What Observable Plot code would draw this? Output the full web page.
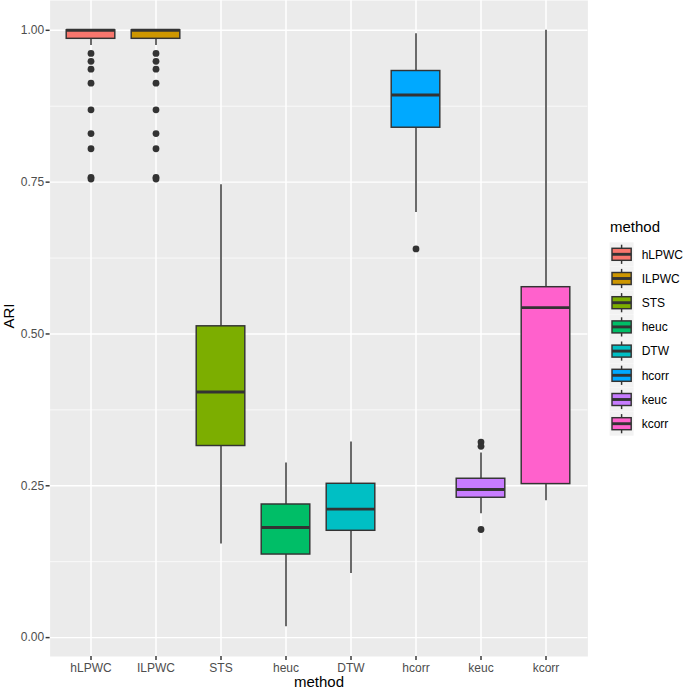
<!DOCTYPE html>
<html>
<head>
<meta charset="utf-8">
<script src="https://cdn.jsdelivr.net/npm/d3@7"></script>
<script src="https://cdn.jsdelivr.net/npm/@observablehq/plot@0.6"></script>
<style>
  body { margin: 0; background: #ffffff; }
  #wrap { position: relative; width: 685px; height: 690px; }
  #legend { position: absolute; left: 0; top: 0; pointer-events: none; }
</style>
</head>
<body>
<div id="wrap"></div>
<script>
// ---- data ----
const methods = ["hLPWC", "ILPWC", "STS", "heuc", "DTW", "hcorr", "keuc", "kcorr"];
const fillColors = ["#F8766D", "#CD9600", "#7CAE00", "#00BE67", "#00BFC4", "#00A9FF", "#C77CFF", "#FF61CC"];
const whiskerLow  = [0.975, 0.975, 0.154, 0.018, 0.1055, 0.700, 0.204, 0.2253];
const q1          = [0.986, 0.986, 0.3155, 0.1368, 0.1759, 0.8396, 0.2303, 0.2528];
const median      = [1.000, 1.000, 0.4045, 0.1813, 0.2116, 0.8934, 0.2440, 0.5434];
const q3          = [1.000, 1.000, 0.5126, 0.2192, 0.2533, 0.9330, 0.2616, 0.5770];
const whiskerHigh = [1.000, 1.000, 0.7457, 0.2874, 0.3220, 0.9945, 0.3040, 1.000];
const outlierMethod = [
  "hLPWC","hLPWC","hLPWC","hLPWC","hLPWC","hLPWC","hLPWC","hLPWC","hLPWC",
  "ILPWC","ILPWC","ILPWC","ILPWC","ILPWC","ILPWC","ILPWC","ILPWC","ILPWC",
  "hcorr",
  "keuc","keuc","keuc"
];
const outlierValue = [
  0.962, 0.949, 0.936, 0.913, 0.869, 0.830, 0.805, 0.758, 0.755,
  0.962, 0.949, 0.936, 0.913, 0.869, 0.830, 0.805, 0.758, 0.755,
  0.640,
  0.322, 0.315, 0.178
];
const yTicks = [0, 0.25, 0.5, 0.75, 1];
const yMinor = [0.125, 0.375, 0.625, 0.875];
const xTitle = "method";
const yTitle = "ARI";
const legendTitle = "method";

// ---- tables built from the arrays ----
const boxes = methods.map((m, i) => ({
  method: m, lo: whiskerLow[i], q1: q1[i], med: median[i], q3: q3[i], hi: whiskerHigh[i]
}));
const outliers = outlierMethod.map((m, i) => ({ method: m, value: outlierValue[i] }));

const dataMin = Math.min(d3.min(whiskerLow), d3.min(outlierValue));
const dataMax = Math.max(d3.max(whiskerHigh), d3.max(outlierValue));
const pad = 0.05 * (dataMax - dataMin);

const FONT = "Liberation Sans, Arial, Helvetica, sans-serif";
const inset = 8.2;

const chart = Plot.plot({
  width: 685,
  height: 690,
  marginLeft: 49.6,
  marginRight: 97.6,
  marginTop: 0,
  marginBottom: 34,
  style: { fontFamily: FONT, fontSize: "12px", background: "white", overflow: "visible" },
  x: { type: "band", domain: methods, paddingInner: 0, paddingOuter: 0.1, label: null },
  y: { domain: [dataMin - pad, dataMax + pad], label: null },
  color: { domain: methods, range: fillColors },
  marks: [
    Plot.frame({ fill: "#EBEBEB" }),
    Plot.ruleY(yMinor, { stroke: "white", strokeWidth: 0.73 }),
    Plot.ruleY(yTicks, { stroke: "white", strokeWidth: 1.45 }),
    Plot.ruleX(methods, { x: d => d, stroke: "white", strokeWidth: 1.45 }),
    Plot.ruleX(boxes, { x: "method", y1: "lo", y2: "q1", stroke: "#333333", strokeWidth: 1.45 }),
    Plot.ruleX(boxes, { x: "method", y1: "q3", y2: "hi", stroke: "#333333", strokeWidth: 1.45 }),
    Plot.barY(boxes, { x: "method", y1: "q1", y2: "q3", fill: "method", stroke: "#333333", strokeWidth: 1.45, insetLeft: inset, insetRight: inset }),
    Plot.tickY(boxes, { x: "method", y: "med", stroke: "#333333", strokeWidth: 2.9, insetLeft: inset, insetRight: inset }),
    Plot.dot(outliers, { x: "method", y: "value", r: 3.4, fill: "#333333", stroke: "none" }),
    Plot.axisY(yTicks, { tickFormat: d3.format(".2f"), tickSize: 4, tickPadding: 2, fontSize: 12, color: "#4D4D4D", strokeWidth: 1.45, label: null }),
    Plot.axisX({ tickSize: 4, tickPadding: 3, fontSize: 12, color: "#4D4D4D", strokeWidth: 1.45, label: null }),
    Plot.text([yTitle], { frameAnchor: "left", dx: -36.5, rotate: -90, fontSize: 15, lineAnchor: "bottom", fill: "black" }),
    Plot.text([xTitle], { frameAnchor: "bottom", dy: 30.5, fontSize: 15, lineAnchor: "bottom", fill: "black" })
  ]
});

// tick marks in grey20 like ggplot
d3.select(chart).selectAll('g[aria-label="y-axis tick"] path, g[aria-label="x-axis tick"] path').attr("stroke", "#333333");

document.getElementById("wrap").appendChild(chart);

// ---- legend (ggplot style, right side) ----
const lg = d3.select("#wrap").append("svg")
  .attr("id", "legend")
  .attr("width", 685).attr("height", 690)
  .style("font-family", FONT);

lg.append("text")
  .attr("x", 610).attr("y", 232.3)
  .attr("font-size", 15).attr("fill", "black")
  .text(legendTitle);

const keySize = 24;
const keyLeft = 609.6;
const firstCenter = 254.3;
const rowStep = 24.2;
methods.forEach((m, i) => {
  const cy = firstCenter + i * rowStep;
  const top = cy - keySize / 2;
  const g = lg.append("g");
  g.append("rect").attr("x", keyLeft).attr("y", top).attr("width", keySize).attr("height", keySize).attr("fill", "#F2F2F2");
  const cx = keyLeft + keySize / 2;
  g.append("line").attr("x1", cx).attr("x2", cx).attr("y1", top + 0.1 * keySize).attr("y2", top + 0.25 * keySize)
    .attr("stroke", "#333333").attr("stroke-width", 1.45);
  g.append("line").attr("x1", cx).attr("x2", cx).attr("y1", top + 0.75 * keySize).attr("y2", top + 0.9 * keySize)
    .attr("stroke", "#333333").attr("stroke-width", 1.45);
  g.append("rect").attr("x", keyLeft + 0.1 * keySize).attr("y", top + 0.25 * keySize)
    .attr("width", 0.8 * keySize).attr("height", 0.5 * keySize)
    .attr("fill", fillColors[i]).attr("stroke", "#333333").attr("stroke-width", 1.45);
  g.append("line").attr("x1", keyLeft + 0.1 * keySize).attr("x2", keyLeft + 0.9 * keySize).attr("y1", cy).attr("y2", cy)
    .attr("stroke", "#333333").attr("stroke-width", 2.9);
  g.append("text").attr("x", 641.7).attr("y", cy + 4.3).attr("font-size", 12).attr("fill", "black").text(m);
});
</script>
</body>
</html>
